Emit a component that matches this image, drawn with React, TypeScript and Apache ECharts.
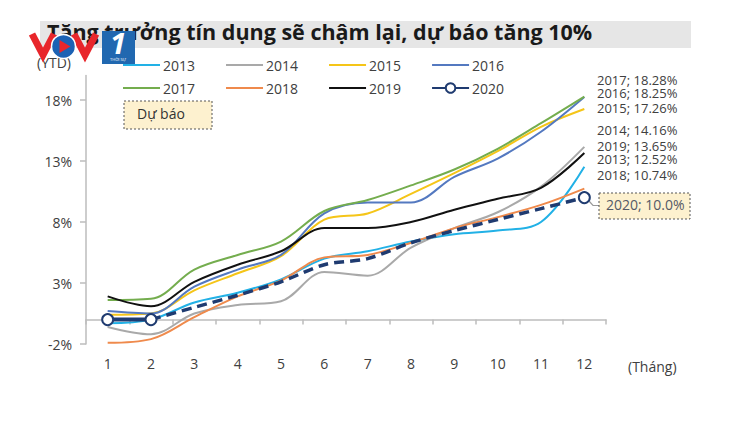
import React, { useEffect, useRef } from "react";
import * as echarts from "echarts";

const titleText = "Tăng trưởng tín dụng sẽ chậm lại, dự báo tăng 10%";
const months = ["1", "2", "3", "4", "5", "6", "7", "8", "9", "10", "11", "12"];
const yTicks = [-2, 3, 8, 13, 18];

const y2013 = [-0.3, 0.0, 1.4, 2.2, 3.3, 5.0, 5.6, 6.4, 7.0, 7.3, 8.0, 12.52];
const y2014 = [-0.6, -1.2, 0.5, 1.2, 1.5, 3.9, 3.6, 5.9, 7.5, 8.8, 10.9, 14.16];
const y2015 = [0.4, 0.5, 2.4, 3.8, 5.2, 8.2, 8.7, 10.3, 12.0, 13.8, 15.8, 17.26];
const y2016 = [0.7, 0.5, 2.7, 4.1, 5.3, 8.7, 9.6, 9.6, 11.7, 13.2, 15.4, 18.25];
const y2017 = [1.6, 1.7, 4.1, 5.3, 6.4, 8.9, 9.8, 11.0, 12.3, 14.0, 16.1, 18.28];
const y2018 = [-1.9, -1.6, 0.2, 1.9, 3.2, 5.1, 5.3, 6.3, 7.5, 8.4, 9.4, 10.74];
const y2019 = [1.9, 1.1, 3.1, 4.5, 5.6, 7.5, 7.5, 8.0, 9.0, 9.9, 10.8, 13.65];
const y2020 = [0, 0, 1.0, 2.0, 3.1, 4.5, 5.0, 6.3, 7.3, 8.2, 9.1, 10.0];
const actualMonths2020 = 2;

const pastYears = ["2013", "2014", "2015", "2016", "2017", "2018", "2019"];
const pastValues = [y2013, y2014, y2015, y2016, y2017, y2018, y2019];
const legendRow1 = ["2013", "2014", "2015", "2016"];
const legendRow2 = ["2017", "2018", "2019", "2020"];
const endLabelOrder = ["2017", "2016", "2015", "2014", "2019", "2013", "2018"];

const COLORS: Record<string, string> = {
  "2013": "#22b1e6",
  "2014": "#a9a9a9",
  "2015": "#f5c518",
  "2016": "#5479c0",
  "2017": "#74ad4e",
  "2018": "#ef8a4c",
  "2019": "#111111",
  "2020": "#1f3b70",
};
const LABEL_Y = [81, 94, 109, 131, 147, 160, 176];
const FONT = "'Open Sans', 'Noto Sans', sans-serif";
const TXT = "#404040";

function legendItems(names: string[]) {
  return names.map((n) =>
    n === "2020" ? { name: n } : { name: n, itemStyle: { opacity: 0 } }
  );
}

function buildOption() {
  const series: any[] = pastYears.map((yr, i) => ({
    name: yr,
    type: "line",
    data: pastValues[i],
    smooth: 0.35,
    symbol: "none",
    lineStyle: { width: 2, color: COLORS[yr] },
    itemStyle: { color: COLORS[yr] },
    z: 2,
  }));
  const navy = COLORS["2020"];
  series.push({
    name: "2020 (dự báo)",
    type: "line",
    data: y2020.map((v, i) =>
      i < actualMonths2020 - 1
        ? "-"
        : { value: v, symbol: i === y2020.length - 1 ? "circle" : "none" }
    ),
    smooth: 0.3,
    symbol: "circle",
    symbolSize: 11,
    showSymbol: true,
    lineStyle: { width: 3.5, color: navy, type: [10, 6] },
    itemStyle: { color: "#ffffff", borderColor: navy, borderWidth: 2 },
    z: 4,
  });
  series.push({
    name: "2020",
    type: "line",
    data: y2020.map((v, i) => (i < actualMonths2020 ? v : "-")),
    symbol: "circle",
    symbolSize: 11,
    showSymbol: true,
    lineStyle: { width: 4, color: navy },
    itemStyle: { color: "#ffffff", borderColor: navy, borderWidth: 2 },
    z: 5,
  });

  const valOf: Record<string, number> = {};
  pastYears.forEach((yr, i) => (valOf[yr] = pastValues[i][pastValues[i].length - 1]));
  const endLabels = endLabelOrder.map((yr, i) => ({
    type: "text",
    left: 597,
    top: LABEL_Y[i] - 8,
    style: {
      text: `${yr}; ${valOf[yr].toFixed(2)}%`,
      fill: TXT,
      font: `13px ${FONT}`,
    },
    z: 10,
  }));
  const last2020 = y2020[y2020.length - 1];

  const legendCommon = {
    itemWidth: 37,
    itemHeight: 12,
    itemGap: 30,
    textStyle: { fontSize: 14, color: TXT, fontFamily: FONT, padding: [0, 0, 0, -2] },
  };

  return {
    animation: false,
    backgroundColor: "#ffffff",
    textStyle: { fontFamily: FONT },
    grid: { left: 86, right: 144, top: 75.6, bottom: 78, outerBoundsMode: "none", containLabel: false },
    legend: [
      { ...legendCommon, data: legendItems(legendRow1), left: 117, top: 53 },
      { ...legendCommon, data: legendItems(legendRow2), left: 117, top: 76 },
    ],
    xAxis: [
      {
        type: "category",
        data: months,
        position: "bottom",
        boundaryGap: true,
        axisLine: { show: false, onZero: false },
        axisTick: { show: false },
        axisLabel: { fontSize: 14, color: TXT, margin: 12, fontFamily: FONT },
      },
      {
        type: "category",
        data: months,
        position: "top",
        boundaryGap: true,
        axisLine: { show: true, onZero: true, lineStyle: { color: "#bdbdbd", width: 1.5 } },
        axisTick: { show: true, inside: true, length: 5, lineStyle: { color: "#bdbdbd", width: 1.5 } },
        axisLabel: { show: false },
      },
    ],
    yAxis: {
      type: "value",
      min: -2,
      max: 20,
      splitLine: { show: false },
      axisLine: { show: true, lineStyle: { color: "#bdbdbd", width: 1.5 } },
      axisTick: { show: true, length: 6, customValues: yTicks, lineStyle: { color: "#bdbdbd", width: 1.5 } },
      axisLabel: {
        customValues: yTicks,
        formatter: "{value}%",
        fontSize: 14,
        color: TXT,
        margin: 14,
        fontFamily: FONT,
      },
    },
    series,
    graphic: [
      { type: "rect", shape: { x: 40, y: 21, width: 651, height: 27 }, style: { fill: "#e6e6e6" }, z: 1 },
      {
        type: "text",
        left: 47,
        top: 20,
        style: { text: titleText, fill: "#1a1a1a", font: `bold 21.5px ${FONT}` },
        z: 2,
      },
      { type: "text", left: 37, top: 55, style: { text: "(YTD)", fill: TXT, font: `14px ${FONT}` }, z: 2 },
      {
        type: "text",
        left: 628,
        top: 359,
        style: { text: "(Tháng)", fill: TXT, font: `14px ${FONT}` },
        z: 2,
      },
      {
        type: "rect",
        shape: { x: 124, y: 101, width: 88, height: 28 },
        style: { fill: "#fdf1cf", stroke: "#555555", lineWidth: 1, lineDash: [2, 2] },
        z: 3,
      },
      { type: "text", left: 137, top: 106, style: { text: "Dự báo", fill: "#333333", font: `14px ${FONT}` }, z: 4 },
      {
        type: "polyline",
        shape: { points: [[589, 201], [593, 205.5], [599, 205.5]] },
        style: { stroke: "#9a9a9a", lineWidth: 1.2, fill: "none" },
        z: 3,
      },
      {
        type: "rect",
        shape: { x: 599, y: 193, width: 91, height: 26 },
        style: { fill: "#fdf1cf", stroke: "#555555", lineWidth: 1, lineDash: [2, 2] },
        z: 3,
      },
      {
        type: "text",
        left: 606,
        top: 197,
        style: { text: `2020; ${last2020.toFixed(1)}%`, fill: "#555a66", font: `14px ${FONT}` },
        z: 4,
      },
      ...endLabels,
      // VOV1 watermark logo
      {
        type: "polyline",
        shape: { points: [[32, 34], [43, 55], [54, 34]] },
        style: { stroke: "#e8262b", lineWidth: 7, fill: "none", lineJoin: "miter" },
        z: 50,
      },
      {
        type: "polyline",
        shape: { points: [[74, 34], [85, 55], [96, 34]] },
        style: { stroke: "#e8262b", lineWidth: 7, fill: "none", lineJoin: "miter" },
        z: 50,
      },
      {
        type: "circle",
        shape: { cx: 63.5, cy: 46.5, r: 12 },
        style: { fill: "#1c62b4", stroke: "#ffffff", lineWidth: 1.5 },
        z: 51,
      },
      {
        type: "polygon",
        shape: { points: [[59.5, 40], [59.5, 53], [70.5, 46.5]] },
        style: { fill: "#e8262b" },
        z: 52,
      },
      {
        type: "rect",
        shape: { x: 102, y: 31, width: 33, height: 33 },
        style: { fill: "#2168b0" },
        z: 50,
      },
      {
        type: "text",
        left: 110,
        top: 28,
        style: { text: "1", fill: "#ffffff", font: `italic bold 29px ${FONT}` },
        z: 51,
      },
      {
        type: "text",
        left: 110,
        top: 57,
        style: { text: "THỜI SỰ", fill: "#ffffff", font: `4px ${FONT}` },
        z: 51,
      },
    ],
  };
}

export default function App() {
  const ref = useRef<HTMLDivElement>(null);
  useEffect(() => {
    if (!ref.current) return;
    const chart = echarts.init(ref.current, null, { renderer: "svg" });
    chart.setOption(buildOption() as any);
    return () => chart.dispose();
  }, []);
  return (
    <div
      ref={ref}
      style={{ position: "absolute", left: 0, top: 0, width: 750, height: 422, background: "#fff" }}
    />
  );
}
